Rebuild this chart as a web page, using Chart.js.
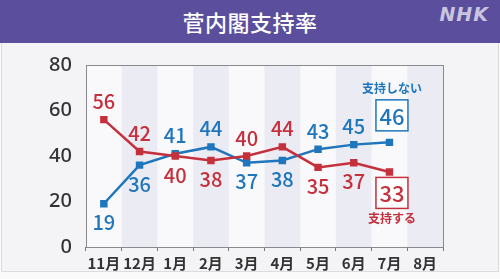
<!DOCTYPE html>
<html lang="ja">
<head>
<meta charset="utf-8">
<script src="https://cdn.jsdelivr.net/npm/chart.js@4/dist/chart.umd.min.js"></script>
<style>
  html, body { margin: 0; padding: 0; }
  body { width: 500px; height: 279px; background: #fafafa; position: relative; overflow: hidden;
         font-family: "Noto Sans CJK JP", "Noto Sans", sans-serif; }
  #bar { position: absolute; left: 0; top: 0; width: 500px; height: 43px; background: #5b4f9d; }
  #title { position: absolute; left: 0; top: 0; width: 500px; line-height: 43px; text-align: center;
           color: #ffffff; font-size: 22px; font-weight: 500; letter-spacing: 0.5px; }
  #logo { position: absolute; right: 11px; top: 3px; color: #c9c5de; font-family: "DejaVu Sans", sans-serif;
          font-size: 19px; font-weight: bold; font-style: italic; letter-spacing: 1px; }
  #panel { position: absolute; left: 1px; top: 43px; width: 496px; height: 228px; background: #f4f4f6;
           border: 1px solid #dcdce0; border-top: none; }
  #wrap { position: absolute; left: 0; top: 0; width: 500px; height: 279px; }
</style>
</head>
<body>
<div id="panel"></div>
<div id="bar"><div id="title">菅内閣支持率</div><div id="logo">NHK</div></div>
<div id="wrap"><canvas id="c" width="500" height="279"></canvas></div>
<script>
// Monthly survey, November to August
const months = ['11月', '12月', '1月', '2月', '3月', '4月', '5月', '6月', '7月', '8月'];
const support = [56, 42, 40, 38, 40, 44, 35, 37, 33];        // 支持する
const nonSupport = [19, 36, 41, 44, 37, 38, 43, 45, 46];     // 支持しない
const yTicks = [0, 20, 40, 60, 80];

const RED = '#c5303d';
const BLUE = '#1f76bd';

// where each value label sits relative to its marker
const supportPlace = ['up', 'up', 'down', 'down', 'up', 'up', 'down', 'down', 'box'];
const nonSupportPlace = ['down', 'down', 'up', 'up', 'down', 'down', 'up', 'up', 'box'];

const bandsPlugin = {
  id: 'bands',
  beforeDatasetsDraw(chart) {
    const { ctx, chartArea: a, scales: { x } } = chart;
    ctx.save();
    ctx.fillStyle = '#f9f9fb';
    ctx.fillRect(a.left, a.top, a.right - a.left, a.bottom - a.top);
    const w = (a.right - a.left) / months.length;
    ctx.fillStyle = '#ebebf4';
    months.forEach((m, i) => {
      if (i % 2 === 1) {
        const cx = x.getPixelForValue(i);
        ctx.fillRect(cx - w / 2, a.top, w, a.bottom - a.top);
      }
    });
    ctx.strokeStyle = '#8a8a8e';
    ctx.lineWidth = 1;
    ctx.strokeRect(Math.round(a.left) + 0.5, Math.round(a.top) + 0.5,
                   Math.round(a.right - a.left), Math.round(a.bottom - a.top));
    ctx.restore();
  }
};

const labelPlugin = {
  id: 'valueLabels',
  afterDatasetsDraw(chart) {
    const { ctx } = chart;
    const defs = [
      { idx: 0, vals: support, place: supportPlace, color: RED, name: '支持する' },
      { idx: 1, vals: nonSupport, place: nonSupportPlace, color: BLUE, name: '支持しない' }
    ];
    ctx.save();
    ctx.textAlign = 'center';
    ctx.textBaseline = 'middle';
    defs.forEach(d => {
      const meta = chart.getDatasetMeta(d.idx);
      meta.data.forEach((pt, i) => {
        const v = d.vals[i];
        ctx.fillStyle = d.color;
        ctx.font = '500 20px "Noto Sans CJK JP", "Noto Sans", sans-serif';
        if (d.place[i] === 'box') {
          const up = d.idx === 1;
          const cx = pt.x + 2.5;
          const cy = up ? pt.y - 27 : pt.y + 21;
          const bw = 32, bh = 31;
          ctx.fillStyle = '#ffffff';
          ctx.fillRect(cx - bw / 2, cy - bh / 2, bw, bh);
          ctx.strokeStyle = d.color;
          ctx.lineWidth = 1.5;
          ctx.strokeRect(cx - bw / 2, cy - bh / 2, bw, bh);
          ctx.fillStyle = d.color;
          ctx.font = '500 22px "Noto Sans CJK JP", "Noto Sans", sans-serif';
          ctx.fillText(String(v), cx, cy + 1);
          ctx.font = 'bold 12px "Noto Sans CJK JP", sans-serif';
          ctx.fillText(d.name, cx, up ? cy - 27 : cy + 26);
        } else {
          const y = d.place[i] === 'up' ? pt.y - 18 : pt.y + 19;
          ctx.fillText(String(v), pt.x, y);
        }
      });
    });
    ctx.restore();
  }
};

new Chart(document.getElementById('c'), {
  type: 'line',
  data: {
    labels: months,
    datasets: [
      {
        label: '支持する',
        data: support,
        borderColor: RED,
        backgroundColor: RED,
        borderWidth: 2.5,
        pointStyle: 'rect',
        pointRadius: 3.5,
        pointHoverRadius: 3.5,
        tension: 0
      },
      {
        label: '支持しない',
        data: nonSupport,
        borderColor: BLUE,
        backgroundColor: BLUE,
        borderWidth: 2.5,
        pointStyle: 'rect',
        pointRadius: 3.5,
        pointHoverRadius: 3.5,
        tension: 0
      }
    ]
  },
  options: {
    responsive: false,
    animation: false,
    events: [],
    layout: { padding: { left: 0, right: 57, top: 65, bottom: 0 } },
    plugins: { legend: { display: false }, tooltip: { enabled: false } },
    scales: {
      x: {
        offset: true,
        border: { display: false },
        grid: { offset: true, drawOnChartArea: false, drawTicks: true, tickLength: 4, color: '#777' },
        ticks: {
          color: '#333',
          padding: 3,
          maxRotation: 0,
          autoSkip: false,
          font: { family: '"Noto Sans CJK JP", sans-serif', size: 15, weight: 'bold' }
        },
        afterFit(s) { s.height = 32; }
      },
      y: {
        min: 0,
        max: 80,
        afterBuildTicks(s) { s.ticks = yTicks.map(v => ({ value: v })); },
        border: { display: false },
        grid: { display: false },
        ticks: {
          color: '#333',
          padding: 6,
          font: { family: '"Noto Sans", sans-serif', size: 20, weight: '500' }
        },
        afterFit(s) { s.width = 86; }
      }
    }
  },
  plugins: [bandsPlugin, labelPlugin]
});
</script>
</body>
</html>
